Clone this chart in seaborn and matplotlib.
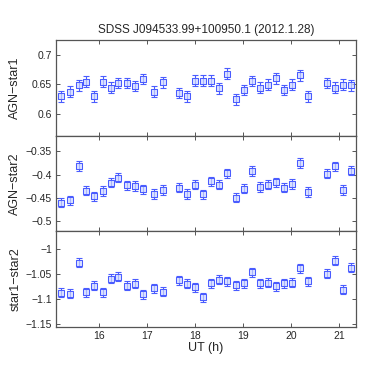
import numpy as np
import pandas as pd
import matplotlib
matplotlib.use("Agg")
import matplotlib.pyplot as plt
import seaborn as sns

# UT hours of each frame
ut = [15.20, 15.40, 15.57, 15.73, 15.90, 16.07, 16.24, 16.40, 16.58, 16.74,
      16.91, 17.15, 17.33, 17.67, 17.83, 18.00, 18.17, 18.33, 18.50, 18.67,
      18.84, 19.01, 19.18, 19.35, 19.51, 19.68, 19.85, 20.02, 20.19, 20.35,
      20.75, 20.92, 21.08, 21.25]

agn_star1 = [0.629, 0.637, 0.648, 0.654, 0.629, 0.654, 0.644, 0.652, 0.652, 0.647,
             0.659, 0.637, 0.653, 0.635, 0.629, 0.656, 0.656, 0.656, 0.643, 0.668,
             0.624, 0.640, 0.655, 0.644, 0.649, 0.660, 0.640, 0.649, 0.665, 0.629,
             0.652, 0.644, 0.649, 0.648]

agn_star2 = [-0.460, -0.455, -0.381, -0.434, -0.446, -0.435, -0.417, -0.406, -0.423, -0.424,
             -0.431, -0.441, -0.433, -0.428, -0.441, -0.421, -0.442, -0.414, -0.421, -0.397,
             -0.449, -0.430, -0.392, -0.426, -0.421, -0.416, -0.428, -0.420, -0.375, -0.437,
             -0.398, -0.382, -0.433, -0.391]

star1_star2 = [-1.088, -1.090, -1.028, -1.087, -1.074, -1.087, -1.060, -1.056, -1.074, -1.070,
               -1.091, -1.079, -1.086, -1.063, -1.070, -1.077, -1.097, -1.069, -1.062, -1.065,
               -1.073, -1.069, -1.047, -1.069, -1.068, -1.075, -1.069, -1.068, -1.039, -1.065,
               -1.050, -1.024, -1.082, -1.038]

err1 = 0.009
err2 = 0.010
err3 = 0.0087

panels = [
    ("AGN\u2212star1", agn_star1, err1, (0.5625, 0.725), [0.6, 0.65, 0.7], ["0.6", "0.65", "0.7"]),
    ("AGN\u2212star2", agn_star2, err2, (-0.521, -0.316), [-0.5, -0.45, -0.4, -0.35],
     ["\u22120.5", "\u22120.45", "\u22120.4", "\u22120.35"]),
    ("star1\u2212star2", star1_star2, err3, (-1.156, -0.965), [-1.15, -1.1, -1.05, -1],
     ["\u22121.15", "\u22121.1", "\u22121.05", "\u22121"]),
]

sns.set_theme(style="ticks")
plt.rcParams['font.family'] = ['Liberation Sans', 'DejaVu Sans']

blue = '#4a5cff'
spine = '#555555'

fig, axes = plt.subplots(3, 1, figsize=(3.74, 3.86), dpi=100, sharex=True)
fig.subplots_adjust(left=0.15, right=0.952, top=0.8964, bottom=0.1536, hspace=0)

for ax, (label, vals, err, ylim, yt, ytl) in zip(axes, panels):
    df = pd.DataFrame({'ut': ut, 'mag': vals})
    ax.errorbar(df['ut'], df['mag'], yerr=err, fmt='none', ecolor=blue,
                elinewidth=0.8, capsize=2.3, capthick=0.8, zorder=2)
    sns.scatterplot(data=df, x='ut', y='mag', ax=ax, marker='s', s=17,
                    facecolor=(0.8, 0.84, 1.0, 0.7), edgecolor=blue, linewidth=0.75, zorder=3)
    ax.set_ylim(*ylim)
    ax.set_xlim(15.10, 21.35)
    ax.set_yticks(yt)
    ax.set_yticklabels(ytl)
    ax.set_ylabel(label, fontsize=9, labelpad=3)
    ax.set_xlabel('')
    ax.set_xticks([16, 17, 18, 19, 20, 21])
    ax.tick_params(direction='in', length=3, width=0.7, color=spine, labelsize=7.5,
                   top=True, right=True, pad=3)
    for s in ax.spines.values():
        s.set_color(spine)
        s.set_linewidth(0.9)

axes[0].set_title('SDSS J094533.99+100950.1 (2012.1.28)', fontsize=8.5, pad=5)
axes[-1].set_xlabel('UT (h)', fontsize=9, labelpad=1)
axes[-1].set_xticklabels(['16', '17', '18', '19', '20', '21'])

fig.align_ylabels(axes)
fig.savefig('out.png', dpi=100)
